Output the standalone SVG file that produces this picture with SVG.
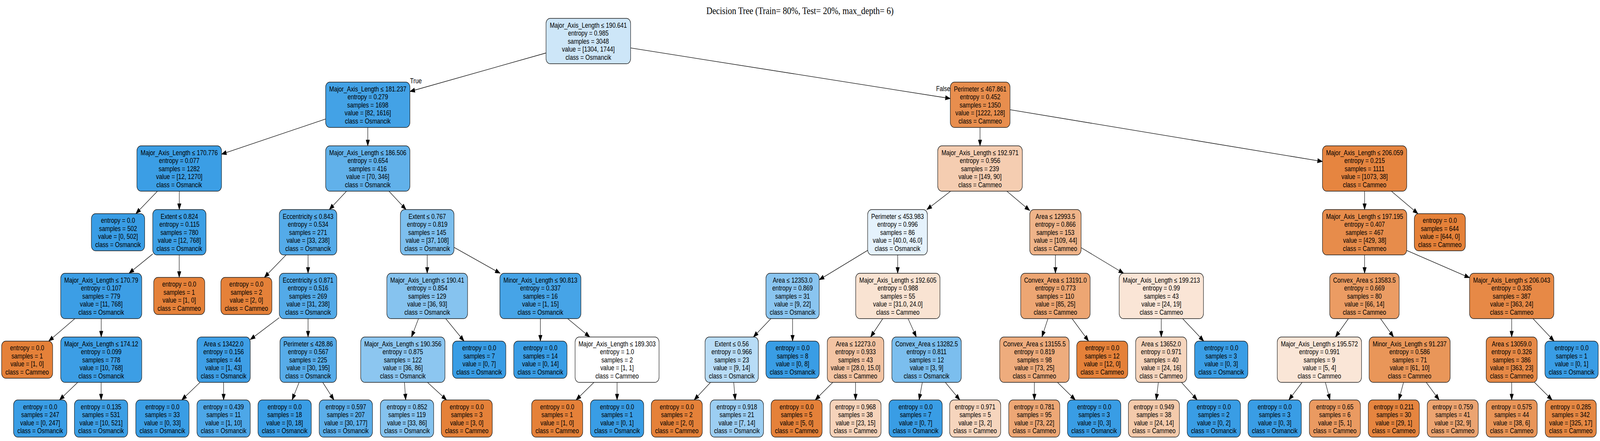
<svg xmlns="http://www.w3.org/2000/svg" width="4955" height="1128" viewBox="0 0 4955 1128" preserveAspectRatio="none">
<defs>
<style>
svg{width:100vw;height:100vh}
.bg{fill:#fff}
.title{font-family:"Liberation Serif","Times New Roman",serif;font-size:26px;text-anchor:middle;fill:#000}
.nd rect{stroke:#1a1a1a;stroke-width:1.4}
.nd text{font-family:"Liberation Sans",Arial,sans-serif;font-size:18px;text-anchor:middle;fill:#000}
.lbl{font-family:"Liberation Sans",Arial,sans-serif;font-size:18px;fill:#000}
.edges line{stroke:#000;stroke-width:1.3;marker-end:url(#arr)}
.osm{fill:#399de5}
.cam{fill:#e58139}
</style>
<marker id="arr" markerUnits="userSpaceOnUse" markerWidth="16" markerHeight="12" refX="15" refY="5.5" orient="auto" overflow="visible">
<path d="M0,0 L15,5.5 L0,11 z" fill="#000" stroke="#000" stroke-width="1"/>
</marker>
</defs>
<rect class="bg" x="0" y="0" width="4955" height="1128"/>
<text class="title" x="2477.5" y="36">Decision Tree (Train= 80%, Test= 20%, max_depth= 6)</text>

<g id="connectors" class="edges">
<line x1="1691" y1="135.5" x2="1269.5" y2="234"/>
<line x1="1953" y1="122.7" x2="2943" y2="252"/>
<line x1="1008.5" y1="304.4" x2="686" y2="394.4"/>
<line x1="1139" y1="326" x2="1139" y2="373"/>
<line x1="3035" y1="326" x2="3035" y2="373"/>
<line x1="3128" y1="280.7" x2="4095.5" y2="413.1"/>
<line x1="487.6" y1="489" x2="420.7" y2="546.5"/>
<line x1="555.3" y1="489" x2="555.3" y2="536"/>
<line x1="1073.2" y1="489" x2="1019.8" y2="536"/>
<line x1="1204.5" y1="489" x2="1257.5" y2="536"/>
<line x1="2944.1" y1="489" x2="2870.4" y2="536"/>
<line x1="3118.1" y1="489" x2="3189" y2="538.5"/>
<line x1="4226" y1="489" x2="4226" y2="536"/>
<line x1="4308.9" y1="489" x2="4391.1" y2="546.5"/>
<line x1="473" y1="649.6" x2="399.6" y2="699"/>
<line x1="555" y1="652" x2="555" y2="709.5"/>
<line x1="886" y1="652" x2="818.7" y2="709.5"/>
<line x1="954" y1="652" x2="954" y2="699"/>
<line x1="1323" y1="652" x2="1323" y2="699"/>
<line x1="1406" y1="632.6" x2="1548.8" y2="699"/>
<line x1="2687" y1="640.4" x2="2537" y2="715.6"/>
<line x1="2780" y1="652" x2="2780" y2="699"/>
<line x1="3268.5" y1="652" x2="3268.5" y2="699"/>
<line x1="3348" y1="633.5" x2="3479.8" y2="699"/>
<line x1="4226" y1="652" x2="4226" y2="699"/>
<line x1="4356.5" y1="640.7" x2="4551" y2="710.3"/>
<line x1="231.8" y1="815" x2="150.9" y2="872.5"/>
<line x1="313.5" y1="815" x2="313.5" y2="862"/>
<line x1="865" y1="812.5" x2="775" y2="868.6"/>
<line x1="954" y1="815" x2="954" y2="862"/>
<line x1="1296.1" y1="815" x2="1274.4" y2="862"/>
<line x1="1380.3" y1="815" x2="1437.1" y2="872.5"/>
<line x1="1673.5" y1="815" x2="1673.5" y2="872.5"/>
<line x1="1758" y1="815" x2="1826.5" y2="862"/>
<line x1="2387.4" y1="815" x2="2333.1" y2="862"/>
<line x1="2454.5" y1="815" x2="2454.5" y2="872.5"/>
<line x1="2733.9" y1="815" x2="2696.1" y2="862"/>
<line x1="2812.2" y1="815" x2="2837.8" y2="862"/>
<line x1="3245.4" y1="815" x2="3226.6" y2="862"/>
<line x1="3320.1" y1="815" x2="3371.2" y2="872.5"/>
<line x1="3596.3" y1="815" x2="3596.3" y2="862"/>
<line x1="3662.5" y1="815" x2="3727.9" y2="872.5"/>
<line x1="4175.9" y1="815" x2="4135.6" y2="862"/>
<line x1="4275.3" y1="815" x2="4315.7" y2="862"/>
<line x1="4681.5" y1="815" x2="4681.5" y2="862"/>
<line x1="4747.5" y1="815" x2="4812.9" y2="872.5"/>
<line x1="240.7" y1="978" x2="184.2" y2="1023"/>
<line x1="313.2" y1="978" x2="313.2" y2="1023"/>
<line x1="619.5" y1="978" x2="562.8" y2="1023"/>
<line x1="692.5" y1="978" x2="692.5" y2="1023"/>
<line x1="926.4" y1="978" x2="904.5" y2="1023"/>
<line x1="999.4" y1="978" x2="1034.2" y2="1023"/>
<line x1="1252.5" y1="978" x2="1256.4" y2="1023"/>
<line x1="1323.8" y1="978" x2="1383" y2="1023"/>
<line x1="1839.5" y1="978" x2="1784" y2="1023"/>
<line x1="1911" y1="978" x2="1911" y2="1023"/>
<line x1="2200.5" y1="978" x2="2149.7" y2="1023"/>
<line x1="2272.2" y1="978" x2="2277" y2="1023"/>
<line x1="2579.2" y1="978" x2="2524.6" y2="1023"/>
<line x1="2649.5" y1="978" x2="2649.5" y2="1023"/>
<line x1="2856.4" y1="978" x2="2846.2" y2="1023"/>
<line x1="2927.5" y1="978" x2="2972.5" y2="1023"/>
<line x1="3203.3" y1="978" x2="3203.3" y2="1023"/>
<line x1="3274.8" y1="978" x2="3330.1" y2="1023"/>
<line x1="3587.3" y1="978" x2="3580.6" y2="1023"/>
<line x1="3658.8" y1="978" x2="3707.6" y2="1023"/>
<line x1="4032.6" y1="978" x2="3991.2" y2="1023"/>
<line x1="4104.5" y1="978" x2="4118.9" y2="1023"/>
<line x1="4346.6" y1="978" x2="4332" y2="1023"/>
<line x1="4416.9" y1="978" x2="4456.9" y2="1023"/>
<line x1="4681.5" y1="978" x2="4681.5" y2="1023"/>
<line x1="4752" y1="978" x2="4806.7" y2="1023"/>
<text class="lbl" x="1270" y="213">True</text>
<text class="lbl" x="2899" y="233">False</text>
</g>

<g id="n0" class="nd"><rect x="1691" y="47" width="262" height="116" rx="13" fill="#cde6f8"/><text x="1822" y="71"><tspan x="1822">Major_Axis_Length ≤ 190.641</tspan><tspan x="1822" dy="20.5">entropy = 0.985</tspan><tspan x="1822" dy="20.5">samples = 3048</tspan><tspan x="1822" dy="20.5">value = [1304, 1744]</tspan><tspan x="1822" dy="20.5">class = Osmancik</tspan></text></g>

<g id="n1" class="nd"><rect x="1008.5" y="210" width="261" height="116" rx="13" fill="#43a2e6"/><text x="1139" y="234"><tspan x="1139">Major_Axis_Length ≤ 181.237</tspan><tspan x="1139" dy="20.5">entropy = 0.279</tspan><tspan x="1139" dy="20.5">samples = 1698</tspan><tspan x="1139" dy="20.5">value = [82, 1616]</tspan><tspan x="1139" dy="20.5">class = Osmancik</tspan></text></g>
<g id="n2" class="nd"><rect x="2943" y="210" width="185" height="116" rx="13" fill="#e88e4e"/><text x="3035.5" y="234"><tspan x="3035.5">Perimeter ≤ 467.861</tspan><tspan x="3035.5" dy="20.5">entropy = 0.452</tspan><tspan x="3035.5" dy="20.5">samples = 1350</tspan><tspan x="3035.5" dy="20.5">value = [1222, 128]</tspan><tspan x="3035.5" dy="20.5">class = Cammeo</tspan></text></g>

<g id="n3" class="nd"><rect x="424" y="373" width="262" height="116" rx="13" fill="#3b9ee5"/><text x="555" y="397"><tspan x="555">Major_Axis_Length ≤ 170.776</tspan><tspan x="555" dy="20.5">entropy = 0.077</tspan><tspan x="555" dy="20.5">samples = 1282</tspan><tspan x="555" dy="20.5">value = [12, 1270]</tspan><tspan x="555" dy="20.5">class = Osmancik</tspan></text></g>
<g id="n4" class="nd"><rect x="1008.5" y="373" width="261" height="116" rx="13" fill="#61b1ea"/><text x="1139" y="397"><tspan x="1139">Major_Axis_Length ≤ 186.506</tspan><tspan x="1139" dy="20.5">entropy = 0.654</tspan><tspan x="1139" dy="20.5">samples = 416</tspan><tspan x="1139" dy="20.5">value = [70, 346]</tspan><tspan x="1139" dy="20.5">class = Osmancik</tspan></text></g>
<g id="n5" class="nd"><rect x="2904" y="373" width="262" height="116" rx="13" fill="#f5cdb1"/><text x="3035" y="397"><tspan x="3035">Major_Axis_Length ≤ 192.971</tspan><tspan x="3035" dy="20.5">entropy = 0.956</tspan><tspan x="3035" dy="20.5">samples = 239</tspan><tspan x="3035" dy="20.5">value = [149, 90]</tspan><tspan x="3035" dy="20.5">class = Cammeo</tspan></text></g>
<g id="n6" class="nd"><rect x="4095.5" y="373" width="261" height="116" rx="13" fill="#e68540"/><text x="4226" y="397"><tspan x="4226">Major_Axis_Length ≤ 206.059</tspan><tspan x="4226" dy="20.5">entropy = 0.215</tspan><tspan x="4226" dy="20.5">samples = 1111</tspan><tspan x="4226" dy="20.5">value = [1073, 38]</tspan><tspan x="4226" dy="20.5">class = Cammeo</tspan></text></g>

<g id="n7" class="nd"><rect class="osm" x="283" y="546.5" width="165" height="95" rx="13"/><text x="365.5" y="570.5"><tspan x="365.5">entropy = 0.0</tspan><tspan x="365.5" dy="20.5">samples = 502</tspan><tspan x="365.5" dy="20.5">value = [0, 502]</tspan><tspan x="365.5" dy="20.5">class = Osmancik</tspan></text></g>
<g id="n8" class="nd"><rect x="473" y="536" width="165" height="116" rx="13" fill="#3c9fe5"/><text x="555.5" y="560"><tspan x="555.5">Extent ≤ 0.824</tspan><tspan x="555.5" dy="20.5">entropy = 0.115</tspan><tspan x="555.5" dy="20.5">samples = 780</tspan><tspan x="555.5" dy="20.5">value = [12, 768]</tspan><tspan x="555.5" dy="20.5">class = Osmancik</tspan></text></g>
<g id="n9" class="nd"><rect x="865" y="536" width="178" height="116" rx="13" fill="#54abe9"/><text x="954" y="560"><tspan x="954">Eccentricity ≤ 0.843</tspan><tspan x="954" dy="20.5">entropy = 0.534</tspan><tspan x="954" dy="20.5">samples = 271</tspan><tspan x="954" dy="20.5">value = [33, 238]</tspan><tspan x="954" dy="20.5">class = Osmancik</tspan></text></g>
<g id="n10" class="nd"><rect x="1240" y="536" width="166" height="116" rx="13" fill="#7dbfee"/><text x="1323" y="560"><tspan x="1323">Extent ≤ 0.767</tspan><tspan x="1323" dy="20.5">entropy = 0.819</tspan><tspan x="1323" dy="20.5">samples = 145</tspan><tspan x="1323" dy="20.5">value = [37, 108]</tspan><tspan x="1323" dy="20.5">class = Osmancik</tspan></text></g>
<g id="n11" class="nd"><rect x="2687" y="536" width="185" height="116" rx="13" fill="#e5f2fc"/><text x="2779.5" y="560"><tspan x="2779.5">Perimeter ≤ 453.983</tspan><tspan x="2779.5" dy="20.5">entropy = 0.996</tspan><tspan x="2779.5" dy="20.5">samples = 86</tspan><tspan x="2779.5" dy="20.5">value = [40.0, 46.0]</tspan><tspan x="2779.5" dy="20.5">class = Osmancik</tspan></text></g>
<g id="n12" class="nd"><rect x="3189" y="536" width="159" height="116" rx="13" fill="#efb489"/><text x="3268.5" y="560"><tspan x="3268.5">Area ≤ 12993.5</tspan><tspan x="3268.5" dy="20.5">entropy = 0.866</tspan><tspan x="3268.5" dy="20.5">samples = 153</tspan><tspan x="3268.5" dy="20.5">value = [109, 44]</tspan><tspan x="3268.5" dy="20.5">class = Cammeo</tspan></text></g>
<g id="n13" class="nd"><rect x="4095.5" y="536" width="261" height="116" rx="13" fill="#e78c4b"/><text x="4226" y="560"><tspan x="4226">Major_Axis_Length ≤ 197.195</tspan><tspan x="4226" dy="20.5">entropy = 0.407</tspan><tspan x="4226" dy="20.5">samples = 467</tspan><tspan x="4226" dy="20.5">value = [429, 38]</tspan><tspan x="4226" dy="20.5">class = Cammeo</tspan></text></g>
<g id="n14" class="nd"><rect class="cam" x="4380" y="546.5" width="158" height="95" rx="13"/><text x="4459" y="570.5"><tspan x="4459">entropy = 0.0</tspan><tspan x="4459" dy="20.5">samples = 644</tspan><tspan x="4459" dy="20.5">value = [644, 0]</tspan><tspan x="4459" dy="20.5">class = Cammeo</tspan></text></g>

<g id="n15" class="nd"><rect x="188" y="699" width="251" height="116" rx="13" fill="#3c9ee5"/><text x="313.5" y="723"><tspan x="313.5">Major_Axis_Length ≤ 170.79</tspan><tspan x="313.5" dy="20.5">entropy = 0.107</tspan><tspan x="313.5" dy="20.5">samples = 779</tspan><tspan x="313.5" dy="20.5">value = [11, 768]</tspan><tspan x="313.5" dy="20.5">class = Osmancik</tspan></text></g>
<g id="n16" class="nd"><rect class="cam" x="476" y="709.5" width="158" height="95" rx="13"/><text x="555" y="733.5"><tspan x="555">entropy = 0.0</tspan><tspan x="555" dy="20.5">samples = 1</tspan><tspan x="555" dy="20.5">value = [1, 0]</tspan><tspan x="555" dy="20.5">class = Cammeo</tspan></text></g>
<g id="n17" class="nd"><rect class="cam" x="684" y="709.5" width="158" height="95" rx="13"/><text x="763" y="733.5"><tspan x="763">entropy = 0.0</tspan><tspan x="763" dy="20.5">samples = 2</tspan><tspan x="763" dy="20.5">value = [2, 0]</tspan><tspan x="763" dy="20.5">class = Cammeo</tspan></text></g>
<g id="n18" class="nd"><rect x="865" y="699" width="178" height="116" rx="13" fill="#53aae8"/><text x="954" y="723"><tspan x="954">Eccentricity ≤ 0.871</tspan><tspan x="954" dy="20.5">entropy = 0.516</tspan><tspan x="954" dy="20.5">samples = 269</tspan><tspan x="954" dy="20.5">value = [31, 238]</tspan><tspan x="954" dy="20.5">class = Osmancik</tspan></text></g>
<g id="n19" class="nd"><rect x="1198" y="699" width="250" height="116" rx="13" fill="#86c3ef"/><text x="1323" y="723"><tspan x="1323">Major_Axis_Length ≤ 190.41</tspan><tspan x="1323" dy="20.5">entropy = 0.854</tspan><tspan x="1323" dy="20.5">samples = 129</tspan><tspan x="1323" dy="20.5">value = [36, 93]</tspan><tspan x="1323" dy="20.5">class = Osmancik</tspan></text></g>
<g id="n20" class="nd"><rect x="1548" y="699" width="251" height="116" rx="13" fill="#46a4e7"/><text x="1673.5" y="723"><tspan x="1673.5">Minor_Axis_Length ≤ 90.813</tspan><tspan x="1673.5" dy="20.5">entropy = 0.337</tspan><tspan x="1673.5" dy="20.5">samples = 16</tspan><tspan x="1673.5" dy="20.5">value = [1, 15]</tspan><tspan x="1673.5" dy="20.5">class = Osmancik</tspan></text></g>
<g id="n21" class="nd"><rect x="2372" y="699" width="165" height="116" rx="13" fill="#8ac5f0"/><text x="2454.5" y="723"><tspan x="2454.5">Area ≤ 12353.0</tspan><tspan x="2454.5" dy="20.5">entropy = 0.869</tspan><tspan x="2454.5" dy="20.5">samples = 31</tspan><tspan x="2454.5" dy="20.5">value = [9, 22]</tspan><tspan x="2454.5" dy="20.5">class = Osmancik</tspan></text></g>
<g id="n22" class="nd"><rect x="2650" y="699" width="261" height="116" rx="13" fill="#f9e3d2"/><text x="2780.5" y="723"><tspan x="2780.5">Major_Axis_Length ≤ 192.605</tspan><tspan x="2780.5" dy="20.5">entropy = 0.988</tspan><tspan x="2780.5" dy="20.5">samples = 55</tspan><tspan x="2780.5" dy="20.5">value = [31.0, 24.0]</tspan><tspan x="2780.5" dy="20.5">class = Cammeo</tspan></text></g>
<g id="n23" class="nd"><rect x="3161" y="699" width="215" height="116" rx="13" fill="#eda673"/><text x="3268.5" y="723"><tspan x="3268.5">Convex_Area ≤ 13191.0</tspan><tspan x="3268.5" dy="20.5">entropy = 0.773</tspan><tspan x="3268.5" dy="20.5">samples = 110</tspan><tspan x="3268.5" dy="20.5">value = [85, 25]</tspan><tspan x="3268.5" dy="20.5">class = Cammeo</tspan></text></g>
<g id="n24" class="nd"><rect x="3466" y="699" width="261" height="116" rx="13" fill="#fae5d6"/><text x="3596.5" y="723"><tspan x="3596.5">Major_Axis_Length ≤ 199.213</tspan><tspan x="3596.5" dy="20.5">entropy = 0.99</tspan><tspan x="3596.5" dy="20.5">samples = 43</tspan><tspan x="3596.5" dy="20.5">value = [24, 19]</tspan><tspan x="3596.5" dy="20.5">class = Cammeo</tspan></text></g>
<g id="n25" class="nd"><rect x="4118" y="699" width="215" height="116" rx="13" fill="#eb9c63"/><text x="4225.5" y="723"><tspan x="4225.5">Convex_Area ≤ 13583.5</tspan><tspan x="4225.5" dy="20.5">entropy = 0.669</tspan><tspan x="4225.5" dy="20.5">samples = 80</tspan><tspan x="4225.5" dy="20.5">value = [66, 14]</tspan><tspan x="4225.5" dy="20.5">class = Cammeo</tspan></text></g>
<g id="n26" class="nd"><rect x="4551" y="699" width="261" height="116" rx="13" fill="#e78946"/><text x="4681.5" y="723"><tspan x="4681.5">Major_Axis_Length ≤ 206.043</tspan><tspan x="4681.5" dy="20.5">entropy = 0.335</tspan><tspan x="4681.5" dy="20.5">samples = 387</tspan><tspan x="4681.5" dy="20.5">value = [363, 24]</tspan><tspan x="4681.5" dy="20.5">class = Cammeo</tspan></text></g>

<g id="n27" class="nd"><rect class="cam" x="5" y="872.5" width="158" height="95" rx="13"/><text x="84" y="896.5"><tspan x="84">entropy = 0.0</tspan><tspan x="84" dy="20.5">samples = 1</tspan><tspan x="84" dy="20.5">value = [1, 0]</tspan><tspan x="84" dy="20.5">class = Cammeo</tspan></text></g>
<g id="n28" class="nd"><rect x="188" y="862" width="251" height="116" rx="13" fill="#3c9ee5"/><text x="313.5" y="886"><tspan x="313.5">Major_Axis_Length ≤ 174.12</tspan><tspan x="313.5" dy="20.5">entropy = 0.099</tspan><tspan x="313.5" dy="20.5">samples = 778</tspan><tspan x="313.5" dy="20.5">value = [10, 768]</tspan><tspan x="313.5" dy="20.5">class = Osmancik</tspan></text></g>
<g id="n29" class="nd"><rect x="610" y="862" width="165" height="116" rx="13" fill="#3e9fe6"/><text x="692.5" y="886"><tspan x="692.5">Area ≤ 13422.0</tspan><tspan x="692.5" dy="20.5">entropy = 0.156</tspan><tspan x="692.5" dy="20.5">samples = 44</tspan><tspan x="692.5" dy="20.5">value = [1, 43]</tspan><tspan x="692.5" dy="20.5">class = Osmancik</tspan></text></g>
<g id="n30" class="nd"><rect x="867" y="862" width="175" height="116" rx="13" fill="#57ace9"/><text x="954.5" y="886"><tspan x="954.5">Perimeter ≤ 428.86</tspan><tspan x="954.5" dy="20.5">entropy = 0.567</tspan><tspan x="954.5" dy="20.5">samples = 225</tspan><tspan x="954.5" dy="20.5">value = [30, 195]</tspan><tspan x="954.5" dy="20.5">class = Osmancik</tspan></text></g>
<g id="n31" class="nd"><rect x="1117" y="862" width="261" height="116" rx="13" fill="#8cc6f0"/><text x="1247.5" y="886"><tspan x="1247.5">Major_Axis_Length ≤ 190.356</tspan><tspan x="1247.5" dy="20.5">entropy = 0.875</tspan><tspan x="1247.5" dy="20.5">samples = 122</tspan><tspan x="1247.5" dy="20.5">value = [36, 86]</tspan><tspan x="1247.5" dy="20.5">class = Osmancik</tspan></text></g>
<g id="n32" class="nd"><rect class="osm" x="1401.5" y="872.5" width="165" height="95" rx="13"/><text x="1484" y="896.5"><tspan x="1484">entropy = 0.0</tspan><tspan x="1484" dy="20.5">samples = 7</tspan><tspan x="1484" dy="20.5">value = [0, 7]</tspan><tspan x="1484" dy="20.5">class = Osmancik</tspan></text></g>
<g id="n33" class="nd"><rect class="osm" x="1591" y="872.5" width="165" height="95" rx="13"/><text x="1673.5" y="896.5"><tspan x="1673.5">entropy = 0.0</tspan><tspan x="1673.5" dy="20.5">samples = 14</tspan><tspan x="1673.5" dy="20.5">value = [0, 14]</tspan><tspan x="1673.5" dy="20.5">class = Osmancik</tspan></text></g>
<g id="n34" class="nd"><rect x="1781" y="862" width="260" height="116" rx="13" fill="#ffffff"/><text x="1911" y="886"><tspan x="1911">Major_Axis_Length ≤ 189.303</tspan><tspan x="1911" dy="20.5">entropy = 1.0</tspan><tspan x="1911" dy="20.5">samples = 2</tspan><tspan x="1911" dy="20.5">value = [1, 1]</tspan><tspan x="1911" dy="20.5">class = Cammeo</tspan></text></g>
<g id="n35" class="nd"><rect x="2183.5" y="862" width="165" height="116" rx="13" fill="#b8dcf6"/><text x="2266" y="886"><tspan x="2266">Extent ≤ 0.56</tspan><tspan x="2266" dy="20.5">entropy = 0.966</tspan><tspan x="2266" dy="20.5">samples = 23</tspan><tspan x="2266" dy="20.5">value = [9, 14]</tspan><tspan x="2266" dy="20.5">class = Osmancik</tspan></text></g>
<g id="n36" class="nd"><rect class="osm" x="2372" y="872.5" width="165" height="95" rx="13"/><text x="2454.5" y="896.5"><tspan x="2454.5">entropy = 0.0</tspan><tspan x="2454.5" dy="20.5">samples = 8</tspan><tspan x="2454.5" dy="20.5">value = [0, 8]</tspan><tspan x="2454.5" dy="20.5">class = Osmancik</tspan></text></g>
<g id="n37" class="nd"><rect x="2562" y="862" width="175" height="116" rx="13" fill="#f3c4a3"/><text x="2649.5" y="886"><tspan x="2649.5">Area ≤ 12273.0</tspan><tspan x="2649.5" dy="20.5">entropy = 0.933</tspan><tspan x="2649.5" dy="20.5">samples = 43</tspan><tspan x="2649.5" dy="20.5">value = [28.0, 15.0]</tspan><tspan x="2649.5" dy="20.5">class = Cammeo</tspan></text></g>
<g id="n38" class="nd"><rect x="2762" y="862" width="215" height="116" rx="13" fill="#7bbeee"/><text x="2869.5" y="886"><tspan x="2869.5">Convex_Area ≤ 13282.5</tspan><tspan x="2869.5" dy="20.5">entropy = 0.811</tspan><tspan x="2869.5" dy="20.5">samples = 12</tspan><tspan x="2869.5" dy="20.5">value = [3, 9]</tspan><tspan x="2869.5" dy="20.5">class = Osmancik</tspan></text></g>
<g id="n39" class="nd"><rect x="3096" y="862" width="215" height="116" rx="13" fill="#eeac7d"/><text x="3203.5" y="886"><tspan x="3203.5">Convex_Area ≤ 13155.5</tspan><tspan x="3203.5" dy="20.5">entropy = 0.819</tspan><tspan x="3203.5" dy="20.5">samples = 98</tspan><tspan x="3203.5" dy="20.5">value = [73, 25]</tspan><tspan x="3203.5" dy="20.5">class = Cammeo</tspan></text></g>
<g id="n40" class="nd"><rect class="cam" x="3334.5" y="872.5" width="158" height="95" rx="13"/><text x="3413.5" y="896.5"><tspan x="3413.5">entropy = 0.0</tspan><tspan x="3413.5" dy="20.5">samples = 12</tspan><tspan x="3413.5" dy="20.5">value = [12, 0]</tspan><tspan x="3413.5" dy="20.5">class = Cammeo</tspan></text></g>
<g id="n41" class="nd"><rect x="3517" y="862" width="158" height="116" rx="13" fill="#f6d5bd"/><text x="3596" y="886"><tspan x="3596">Area ≤ 13652.0</tspan><tspan x="3596" dy="20.5">entropy = 0.971</tspan><tspan x="3596" dy="20.5">samples = 40</tspan><tspan x="3596" dy="20.5">value = [24, 16]</tspan><tspan x="3596" dy="20.5">class = Cammeo</tspan></text></g>
<g id="n42" class="nd"><rect class="osm" x="3699.5" y="872.5" width="165" height="95" rx="13"/><text x="3782" y="896.5"><tspan x="3782">entropy = 0.0</tspan><tspan x="3782" dy="20.5">samples = 3</tspan><tspan x="3782" dy="20.5">value = [0, 3]</tspan><tspan x="3782" dy="20.5">class = Osmancik</tspan></text></g>
<g id="n43" class="nd"><rect x="3955.5" y="862" width="261" height="116" rx="13" fill="#fae6d7"/><text x="4086" y="886"><tspan x="4086">Major_Axis_Length ≤ 195.572</tspan><tspan x="4086" dy="20.5">entropy = 0.991</tspan><tspan x="4086" dy="20.5">samples = 9</tspan><tspan x="4086" dy="20.5">value = [5, 4]</tspan><tspan x="4086" dy="20.5">class = Cammeo</tspan></text></g>
<g id="n44" class="nd"><rect x="4240" y="862" width="251" height="116" rx="13" fill="#e99659"/><text x="4365.5" y="886"><tspan x="4365.5">Minor_Axis_Length ≤ 91.237</tspan><tspan x="4365.5" dy="20.5">entropy = 0.586</tspan><tspan x="4365.5" dy="20.5">samples = 71</tspan><tspan x="4365.5" dy="20.5">value = [61, 10]</tspan><tspan x="4365.5" dy="20.5">class = Cammeo</tspan></text></g>
<g id="n45" class="nd"><rect x="4602.5" y="862" width="158" height="116" rx="13" fill="#e78946"/><text x="4681.5" y="886"><tspan x="4681.5">Area ≤ 13059.0</tspan><tspan x="4681.5" dy="20.5">entropy = 0.326</tspan><tspan x="4681.5" dy="20.5">samples = 386</tspan><tspan x="4681.5" dy="20.5">value = [363, 23]</tspan><tspan x="4681.5" dy="20.5">class = Cammeo</tspan></text></g>
<g id="n46" class="nd"><rect class="osm" x="4784.5" y="872.5" width="165" height="95" rx="13"/><text x="4867" y="896.5"><tspan x="4867">entropy = 0.0</tspan><tspan x="4867" dy="20.5">samples = 1</tspan><tspan x="4867" dy="20.5">value = [0, 1]</tspan><tspan x="4867" dy="20.5">class = Osmancik</tspan></text></g>

<g id="n47" class="nd"><rect class="osm" x="42" y="1023" width="165" height="95" rx="13"/><text x="124.5" y="1047"><tspan x="124.5">entropy = 0.0</tspan><tspan x="124.5" dy="20.5">samples = 247</tspan><tspan x="124.5" dy="20.5">value = [0, 247]</tspan><tspan x="124.5" dy="20.5">class = Osmancik</tspan></text></g>
<g id="n48" class="nd"><rect x="230.5" y="1023" width="165" height="95" rx="13" fill="#3d9fe5"/><text x="313" y="1047"><tspan x="313">entropy = 0.135</tspan><tspan x="313" dy="20.5">samples = 531</tspan><tspan x="313" dy="20.5">value = [10, 521]</tspan><tspan x="313" dy="20.5">class = Osmancik</tspan></text></g>
<g id="n49" class="nd"><rect class="osm" x="420.5" y="1023" width="165" height="95" rx="13"/><text x="503" y="1047"><tspan x="503">entropy = 0.0</tspan><tspan x="503" dy="20.5">samples = 33</tspan><tspan x="503" dy="20.5">value = [0, 33]</tspan><tspan x="503" dy="20.5">class = Osmancik</tspan></text></g>
<g id="n50" class="nd"><rect x="610" y="1023" width="165" height="95" rx="13" fill="#4da7e8"/><text x="692.5" y="1047"><tspan x="692.5">entropy = 0.439</tspan><tspan x="692.5" dy="20.5">samples = 11</tspan><tspan x="692.5" dy="20.5">value = [1, 10]</tspan><tspan x="692.5" dy="20.5">class = Osmancik</tspan></text></g>
<g id="n51" class="nd"><rect class="osm" x="799" y="1023" width="165" height="95" rx="13"/><text x="881.5" y="1047"><tspan x="881.5">entropy = 0.0</tspan><tspan x="881.5" dy="20.5">samples = 18</tspan><tspan x="881.5" dy="20.5">value = [0, 18]</tspan><tspan x="881.5" dy="20.5">class = Osmancik</tspan></text></g>
<g id="n52" class="nd"><rect x="988.5" y="1023" width="165" height="95" rx="13" fill="#5baee9"/><text x="1071" y="1047"><tspan x="1071">entropy = 0.597</tspan><tspan x="1071" dy="20.5">samples = 207</tspan><tspan x="1071" dy="20.5">value = [30, 177]</tspan><tspan x="1071" dy="20.5">class = Osmancik</tspan></text></g>
<g id="n53" class="nd"><rect x="1178" y="1023" width="165" height="95" rx="13" fill="#85c3ef"/><text x="1260.5" y="1047"><tspan x="1260.5">entropy = 0.852</tspan><tspan x="1260.5" dy="20.5">samples = 119</tspan><tspan x="1260.5" dy="20.5">value = [33, 86]</tspan><tspan x="1260.5" dy="20.5">class = Osmancik</tspan></text></g>
<g id="n54" class="nd"><rect class="cam" x="1366.5" y="1023" width="158" height="95" rx="13"/><text x="1445.5" y="1047"><tspan x="1445.5">entropy = 0.0</tspan><tspan x="1445.5" dy="20.5">samples = 3</tspan><tspan x="1445.5" dy="20.5">value = [3, 0]</tspan><tspan x="1445.5" dy="20.5">class = Cammeo</tspan></text></g>
<g id="n55" class="nd"><rect class="cam" x="1646.5" y="1023" width="158" height="95" rx="13"/><text x="1725.5" y="1047"><tspan x="1725.5">entropy = 0.0</tspan><tspan x="1725.5" dy="20.5">samples = 1</tspan><tspan x="1725.5" dy="20.5">value = [1, 0]</tspan><tspan x="1725.5" dy="20.5">class = Cammeo</tspan></text></g>
<g id="n56" class="nd"><rect class="osm" x="1828.5" y="1023" width="165" height="95" rx="13"/><text x="1911" y="1047"><tspan x="1911">entropy = 0.0</tspan><tspan x="1911" dy="20.5">samples = 1</tspan><tspan x="1911" dy="20.5">value = [0, 1]</tspan><tspan x="1911" dy="20.5">class = Osmancik</tspan></text></g>
<g id="n57" class="nd"><rect class="cam" x="2017" y="1023" width="158" height="95" rx="13"/><text x="2096" y="1047"><tspan x="2096">entropy = 0.0</tspan><tspan x="2096" dy="20.5">samples = 2</tspan><tspan x="2096" dy="20.5">value = [2, 0]</tspan><tspan x="2096" dy="20.5">class = Cammeo</tspan></text></g>
<g id="n58" class="nd"><rect x="2199.5" y="1023" width="165" height="95" rx="13" fill="#9ccef2"/><text x="2282" y="1047"><tspan x="2282">entropy = 0.918</tspan><tspan x="2282" dy="20.5">samples = 21</tspan><tspan x="2282" dy="20.5">value = [7, 14]</tspan><tspan x="2282" dy="20.5">class = Osmancik</tspan></text></g>
<g id="n59" class="nd"><rect class="cam" x="2388" y="1023" width="158" height="95" rx="13"/><text x="2467" y="1047"><tspan x="2467">entropy = 0.0</tspan><tspan x="2467" dy="20.5">samples = 5</tspan><tspan x="2467" dy="20.5">value = [5, 0]</tspan><tspan x="2467" dy="20.5">class = Cammeo</tspan></text></g>
<g id="n60" class="nd"><rect x="2570.5" y="1023" width="158" height="95" rx="13" fill="#f6d3ba"/><text x="2649.5" y="1047"><tspan x="2649.5">entropy = 0.968</tspan><tspan x="2649.5" dy="20.5">samples = 38</tspan><tspan x="2649.5" dy="20.5">value = [23, 15]</tspan><tspan x="2649.5" dy="20.5">class = Cammeo</tspan></text></g>
<g id="n61" class="nd"><rect class="osm" x="2753" y="1023" width="165" height="95" rx="13"/><text x="2835.5" y="1047"><tspan x="2835.5">entropy = 0.0</tspan><tspan x="2835.5" dy="20.5">samples = 7</tspan><tspan x="2835.5" dy="20.5">value = [0, 7]</tspan><tspan x="2835.5" dy="20.5">class = Osmancik</tspan></text></g>
<g id="n62" class="nd"><rect x="2941" y="1023" width="158" height="95" rx="13" fill="#f6d5bd"/><text x="3020" y="1047"><tspan x="3020">entropy = 0.971</tspan><tspan x="3020" dy="20.5">samples = 5</tspan><tspan x="3020" dy="20.5">value = [3, 2]</tspan><tspan x="3020" dy="20.5">class = Cammeo</tspan></text></g>
<g id="n63" class="nd"><rect x="3124" y="1023" width="158" height="95" rx="13" fill="#eda775"/><text x="3203" y="1047"><tspan x="3203">entropy = 0.781</tspan><tspan x="3203" dy="20.5">samples = 95</tspan><tspan x="3203" dy="20.5">value = [73, 22]</tspan><tspan x="3203" dy="20.5">class = Cammeo</tspan></text></g>
<g id="n64" class="nd"><rect class="osm" x="3306" y="1023" width="165" height="95" rx="13"/><text x="3388.5" y="1047"><tspan x="3388.5">entropy = 0.0</tspan><tspan x="3388.5" dy="20.5">samples = 3</tspan><tspan x="3388.5" dy="20.5">value = [0, 3]</tspan><tspan x="3388.5" dy="20.5">class = Osmancik</tspan></text></g>
<g id="n65" class="nd"><rect x="3494.5" y="1023" width="158" height="95" rx="13" fill="#f4caab"/><text x="3573.5" y="1047"><tspan x="3573.5">entropy = 0.949</tspan><tspan x="3573.5" dy="20.5">samples = 38</tspan><tspan x="3573.5" dy="20.5">value = [24, 14]</tspan><tspan x="3573.5" dy="20.5">class = Cammeo</tspan></text></g>
<g id="n66" class="nd"><rect class="osm" x="3676.5" y="1023" width="165" height="95" rx="13"/><text x="3759" y="1047"><tspan x="3759">entropy = 0.0</tspan><tspan x="3759" dy="20.5">samples = 2</tspan><tspan x="3759" dy="20.5">value = [0, 2]</tspan><tspan x="3759" dy="20.5">class = Osmancik</tspan></text></g>
<g id="n67" class="nd"><rect class="osm" x="3865" y="1023" width="165" height="95" rx="13"/><text x="3947.5" y="1047"><tspan x="3947.5">entropy = 0.0</tspan><tspan x="3947.5" dy="20.5">samples = 3</tspan><tspan x="3947.5" dy="20.5">value = [0, 3]</tspan><tspan x="3947.5" dy="20.5">class = Osmancik</tspan></text></g>
<g id="n68" class="nd"><rect x="4055" y="1023" width="158" height="95" rx="13" fill="#ea9a61"/><text x="4134" y="1047"><tspan x="4134">entropy = 0.65</tspan><tspan x="4134" dy="20.5">samples = 6</tspan><tspan x="4134" dy="20.5">value = [5, 1]</tspan><tspan x="4134" dy="20.5">class = Cammeo</tspan></text></g>
<g id="n69" class="nd"><rect x="4237.5" y="1023" width="158" height="95" rx="13" fill="#e6853f"/><text x="4316.5" y="1047"><tspan x="4316.5">entropy = 0.211</tspan><tspan x="4316.5" dy="20.5">samples = 30</tspan><tspan x="4316.5" dy="20.5">value = [29, 1]</tspan><tspan x="4316.5" dy="20.5">class = Cammeo</tspan></text></g>
<g id="n70" class="nd"><rect x="4420" y="1023" width="158" height="95" rx="13" fill="#eca471"/><text x="4499" y="1047"><tspan x="4499">entropy = 0.759</tspan><tspan x="4499" dy="20.5">samples = 41</tspan><tspan x="4499" dy="20.5">value = [32, 9]</tspan><tspan x="4499" dy="20.5">class = Cammeo</tspan></text></g>
<g id="n71" class="nd"><rect x="4602.5" y="1023" width="158" height="95" rx="13" fill="#e99558"/><text x="4681.5" y="1047"><tspan x="4681.5">entropy = 0.575</tspan><tspan x="4681.5" dy="20.5">samples = 44</tspan><tspan x="4681.5" dy="20.5">value = [38, 6]</tspan><tspan x="4681.5" dy="20.5">class = Cammeo</tspan></text></g>
<g id="n72" class="nd"><rect x="4785.5" y="1023" width="158" height="95" rx="13" fill="#e68843"/><text x="4864.5" y="1047"><tspan x="4864.5">entropy = 0.285</tspan><tspan x="4864.5" dy="20.5">samples = 342</tspan><tspan x="4864.5" dy="20.5">value = [325, 17]</tspan><tspan x="4864.5" dy="20.5">class = Cammeo</tspan></text></g>
</svg>
